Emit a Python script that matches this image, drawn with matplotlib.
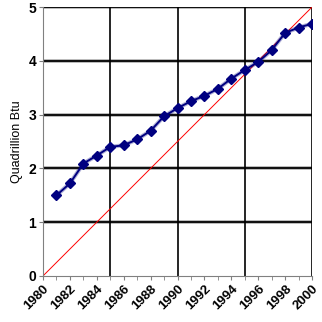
import numpy as np
import matplotlib.pyplot as plt

# annual consumption, quadrillion Btu
years = np.arange(1981, 2001)
consumption = [1.50, 1.72, 2.09, 2.24, 2.40, 2.43, 2.54, 2.70, 2.97, 3.12,
               3.25, 3.35, 3.48, 3.67, 3.83, 3.98, 4.20, 4.52, 4.62, 4.69]
trend_x = [1980, 2000]
trend_y = [0, 5]
tick_years = np.arange(1980, 2001, 2)

plt.rcParams['font.family'] = ['Liberation Sans', 'DejaVu Sans']

fig = plt.figure(figsize=(3.22, 3.22), dpi=100)
ax = fig.add_axes([0.1335, 0.143, 0.8355, 0.835])

# grid
for y in range(1, 6):
    ax.axhline(y, color='#b8b8b8', lw=2.8, zorder=1)
    ax.axhline(y, color='black', lw=1.3, zorder=1.1)
for x in [1985, 1990, 1995, 2000]:
    ax.axvline(x, color='black', lw=1.2, zorder=1.2)

ax.plot(trend_x, trend_y, color='red', lw=0.7, zorder=2)
ax.plot(years, consumption, color='#000080', lw=3.0, alpha=0.3, zorder=3)
ax.plot(years, consumption, color='#000080', lw=1.4, marker='D',
        markersize=5, markeredgecolor='#000080', markerfacecolor='#000080', zorder=4)

ax.set_xlim(1980, 2000)
ax.set_ylim(0, 5)
ax.set_yticks(range(0, 6))
ax.set_yticklabels([str(v) for v in range(0, 6)], fontsize=10, fontweight='bold')
ax.set_xticks(np.arange(1980, 2001, 1), minor=True)
ax.set_xticks(tick_years)
ax.set_xticklabels([str(v) for v in tick_years], fontsize=9.5, fontweight='bold',
                   rotation=45, ha='right', rotation_mode='anchor')
ax.tick_params(axis='both', which='both', direction='out', length=3, color='#808080', pad=2)
ax.set_ylabel('Quadrillion Btu', fontsize=9, labelpad=4)

for side in ['top', 'right']:
    ax.spines[side].set_visible(False)
ax.spines['left'].set_color('#808080')
ax.spines['bottom'].set_color('#808080')

fig.savefig('out.png', dpi=100)
